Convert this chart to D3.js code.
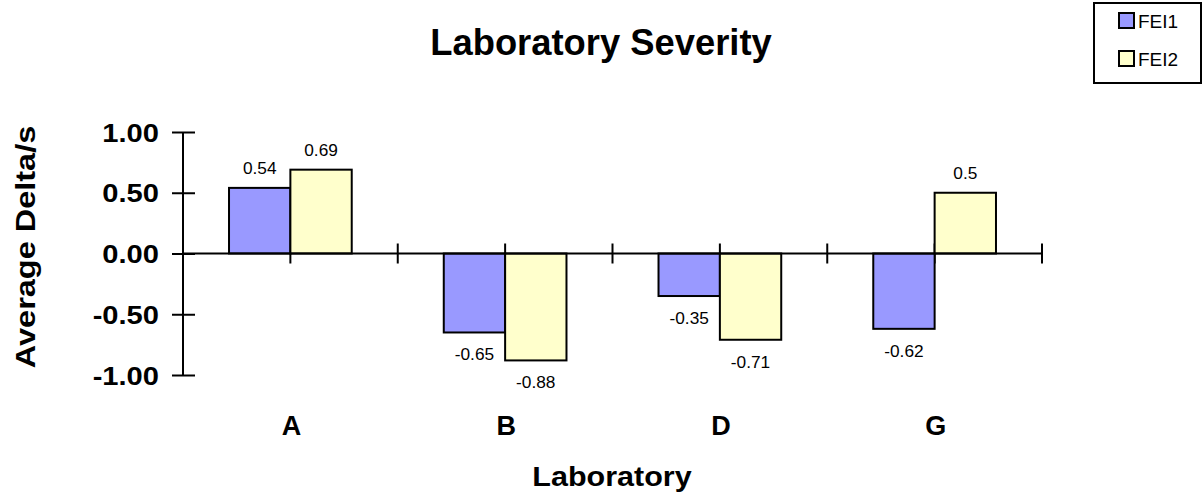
<!DOCTYPE html>
<html>
<head>
<meta charset="utf-8">
<script src="https://cdn.jsdelivr.net/npm/d3@7"></script>
<style>
  body { margin: 0; background: #fff; }
  svg { display: block; }
  text { font-family: "Liberation Sans", Arial, sans-serif; fill: #000; }
</style>
</head>
<body>
<div id="chart"></div>
<script>
const categories = ['A', 'B', 'D', 'G']
const seriesNames = ['FEI1', 'FEI2']
const fei1 = [0.54, -0.65, -0.35, -0.62]
const fei2 = [0.69, -0.88, -0.71, 0.5]
const valueLabels1 = ['0.54', '-0.65', '-0.35', '-0.62']
const valueLabels2 = ['0.69', '-0.88', '-0.71', '0.5']
const yTicks = [-1, -0.5, 0, 0.5, 1]
const colors = ['#9999ff', '#ffffcc']

const width = 1203
const height = 497
const plot = { left: 183, right: 1042, top: 132, bottom: 375 }

const svg = d3.select('#chart').append('svg')
  .attr('width', width)
  .attr('height', height)

const rows = categories.map((c, i) => ({
  cat: c,
  values: [
    { key: seriesNames[0], value: fei1[i], label: valueLabels1[i] },
    { key: seriesNames[1], value: fei2[i], label: valueLabels2[i] }
  ]
}))

const x0 = d3.scaleBand().domain(categories).range([plot.left, plot.right])
const x1 = d3.scaleBand().domain(seriesNames).range([0, x0.bandwidth()]).paddingInner(0).paddingOuter(0.75)
const y = d3.scaleLinear().domain([-1, 1]).range([plot.bottom, plot.top])
const color = d3.scaleOrdinal().domain(seriesNames).range(colors)

// stretched text helper (the original renderer spreads glyphs a bit wider)
function stretched (sel, sx) {
  return sel.attr('transform', function () {
    const tx = +this.getAttribute('data-x')
    const ty = +this.getAttribute('data-y')
    return `translate(${tx},${ty}) scale(${sx},1)`
  })
}

// title
svg.append('text')
  .attr('data-x', 601).attr('data-y', 55)
  .attr('text-anchor', 'middle')
  .style('font-size', '36px').style('font-weight', 'bold')
  .text('Laboratory Severity')
  .call(stretched, 1.01)

// category cross ticks (boundaries and centers), under the bars
const zeroY = y(0)
const tickXs = []
categories.forEach(c => {
  tickXs.push(x0(c) + x0.bandwidth() / 2)
  tickXs.push(x0(c) + x0.bandwidth())
})
svg.append('g').selectAll('line')
  .data(tickXs)
  .join('line')
  .attr('x1', d => d).attr('x2', d => d)
  .attr('y1', zeroY - 10).attr('y2', zeroY + 10)
  .attr('stroke', '#000').attr('stroke-width', 2)

// bars
const groups = svg.append('g').selectAll('g')
  .data(rows)
  .join('g')
  .attr('transform', d => `translate(${x0(d.cat)},0)`)

groups.selectAll('rect')
  .data(d => d.values)
  .join('rect')
  .attr('x', d => x1(d.key))
  .attr('width', x1.bandwidth())
  .attr('y', d => y(Math.max(0, d.value)))
  .attr('height', d => Math.abs(y(d.value) - y(0)))
  .attr('fill', d => color(d.key))
  .attr('stroke', '#000')
  .attr('stroke-width', 2)

groups.selectAll('text')
  .data(d => d.values)
  .join('text')
  .attr('data-x', d => x1(d.key) + x1.bandwidth() / 2)
  .attr('data-y', d => d.value >= 0 ? y(d.value) - 14 : y(d.value) + 28)
  .attr('text-anchor', 'middle')
  .style('font-size', '16px')
  .text(d => d.label)
  .call(stretched, 1.08)

// x axis line at zero
svg.append('line')
  .attr('x1', plot.left).attr('x2', plot.right)
  .attr('y1', zeroY).attr('y2', zeroY)
  .attr('stroke', '#000').attr('stroke-width', 2)

// y axis
const fmt = d3.format('.2f')
const yAxis = svg.append('g')
  .attr('transform', `translate(${plot.left},0)`)
  .call(d3.axisLeft(y).tickValues(yTicks).tickFormat(d => fmt(d).replace('\u2212', '-')).tickSize(11))

yAxis.select('.domain').remove()
yAxis.append('line')
  .attr('x1', 0).attr('x2', 0)
  .attr('y1', y(1)).attr('y2', y(-1))
  .attr('stroke', '#000').attr('stroke-width', 2)
yAxis.selectAll('.tick line').attr('x2', -11).attr('stroke-width', 2)
yAxis.selectAll('.tick').append('line')
  .attr('x1', 0).attr('x2', 12)
  .attr('stroke', '#000').attr('stroke-width', 2)
yAxis.selectAll('.tick text')
  .attr('x', null).attr('dy', null)
  .attr('text-anchor', 'end')
  .attr('font-family', null).attr('font-size', null)
  .style('font-size', '26px').style('font-weight', 'bold')
  .attr('transform', 'translate(-24,9) scale(1.12,1)')

// category labels
svg.append('g').selectAll('text')
  .data(categories)
  .join('text')
  .attr('data-x', d => x0(d) + x0.bandwidth() / 2 + 1)
  .attr('data-y', 435)
  .attr('text-anchor', 'middle')
  .style('font-size', '27px').style('font-weight', 'bold')
  .text(d => d)
  .call(stretched, 1.0)

// axis titles
svg.append('text')
  .attr('data-x', 612).attr('data-y', 486)
  .attr('text-anchor', 'middle')
  .style('font-size', '27px').style('font-weight', 'bold')
  .text('Laboratory')
  .call(stretched, 1.13)

svg.append('text')
  .attr('transform', 'translate(35,247) rotate(-90) scale(1.16,1)')
  .attr('text-anchor', 'middle')
  .style('font-size', '28px').style('font-weight', 'bold')
  .text('Average Delta/s')

// legend
const legend = svg.append('g')
legend.append('rect')
  .attr('x', 1094).attr('y', 3)
  .attr('width', 107).attr('height', 80)
  .attr('fill', '#fff').attr('stroke', '#000').attr('stroke-width', 2)

const items = legend.selectAll('g.item')
  .data(seriesNames)
  .join('g')
  .attr('class', 'item')
  .attr('transform', (d, i) => `translate(1119,${13 + i * 38})`)

items.append('rect')
  .attr('width', 15).attr('height', 15)
  .attr('fill', d => color(d))
  .attr('stroke', '#000').attr('stroke-width', 2)

items.append('text')
  .attr('x', 19).attr('y', 15)
  .style('font-size', '19px')
  .text(d => d)
</script>
</body>
</html>
